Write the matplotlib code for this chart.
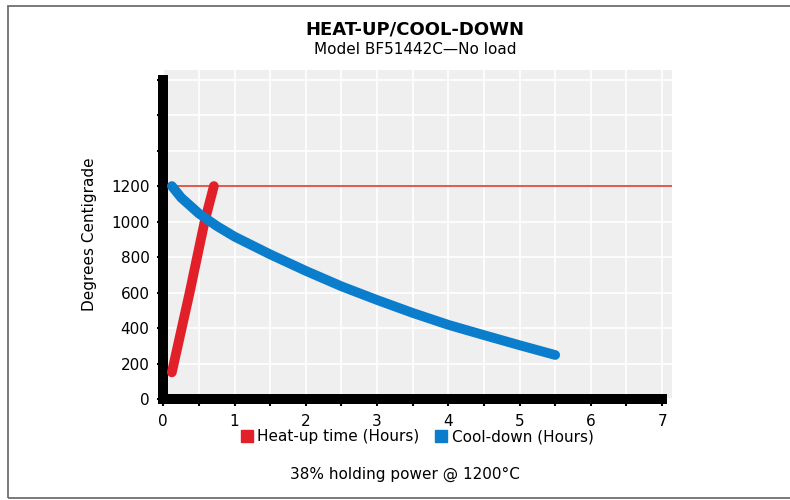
import matplotlib
matplotlib.use("Agg")
import matplotlib.pyplot as plt
from matplotlib.patches import Patch, Rectangle

# data
heat_hours = [0.12, 0.37, 0.58, 0.71]
heat_temp = [150, 600, 1000, 1200]

cool_hours = [0.12, 0.25, 0.5, 0.75, 1.0, 1.5, 2.0, 2.5, 3.0, 3.5, 4.0, 4.5, 5.0, 5.5]
cool_temp = [1200, 1135, 1045, 975, 915, 815, 722, 635, 558, 485, 418, 360, 303, 248]

hold_temp = 1200
y_ticks = [0, 200, 400, 600, 800, 1000, 1200, 1400, 1600, 1800]
y_labels = ["0", "200", "400", "600", "800", "1000", "1200", "", "", ""]
x_ticks = [0, 1, 2, 3, 4, 5, 6, 7]

RED = "#e2202a"
BLUE = "#0a7dcc"

plt.rcParams["font.family"] = ["DejaVu Sans"]

fig = plt.figure(figsize=(7.9, 5.0), dpi=100)
ax = fig.add_axes([0.2067, 0.202, 0.644, 0.658])
ax.set_facecolor("#efefef")

# outer frame
fig.patches.append(Rectangle((8 / 790, 2 / 500), 1.0, 492 / 500, transform=fig.transFigure,
                             fill=False, edgecolor="#6e6e6e", linewidth=1.3))

ax.set_xlim(0, 7.14)
ax.set_ylim(0, 1854)

ax.set_xticks(x_ticks)
ax.set_xticks([v + 0.5 for v in x_ticks[:-1]], minor=True)
ax.set_yticks(y_ticks)
ax.set_yticklabels(y_labels)

ax.grid(True, which="both", color="white", linewidth=1.2)
ax.set_axisbelow(True)

for s in ["top", "right"]:
    ax.spines[s].set_visible(False)
ax.spines["left"].set_linewidth(7.2)
ax.spines["bottom"].set_linewidth(7.2)
ax.spines["left"].set_bounds(0, 1800)
ax.spines["bottom"].set_bounds(0, 7)

ax.tick_params(axis="both", which="both", direction="out", length=4, width=1.5,
               color="black", labelsize=11, pad=6)
ax.tick_params(axis="x", which="both", length=5)

ax.plot([cool_hours[0], 7.14], [hold_temp, hold_temp], color="#e23a2e", linewidth=1.2, zorder=2)
ax.plot(heat_hours, heat_temp, color=RED, linewidth=7, solid_capstyle="round", zorder=3)
ax.plot(cool_hours, cool_temp, color=BLUE, linewidth=7, solid_capstyle="round",
        solid_joinstyle="round", zorder=4)

ax.set_ylabel("Degrees Centigrade", fontsize=11, labelpad=10)

fig.text(0.525, 0.94, "HEAT-UP/COOL-DOWN", ha="center", va="center",
         fontsize=13, fontweight="bold")
fig.text(0.525, 0.902, "Model BF51442C\u2014No load", ha="center", va="center", fontsize=11)

handles = [Patch(color=RED, label="Heat-up time (Hours)"),
           Patch(color=BLUE, label="Cool-down (Hours)")]
fig.legend(handles=handles, loc="center", bbox_to_anchor=(0.528, 0.126), ncol=2,
           frameon=False, fontsize=11, handlelength=0.8, handleheight=0.8,
           handletextpad=0.3, columnspacing=1.0)

fig.text(0.512, 0.052, "38% holding power @ 1200\u00b0C", ha="center", va="center", fontsize=11)

fig.savefig("out.png", dpi=100)
